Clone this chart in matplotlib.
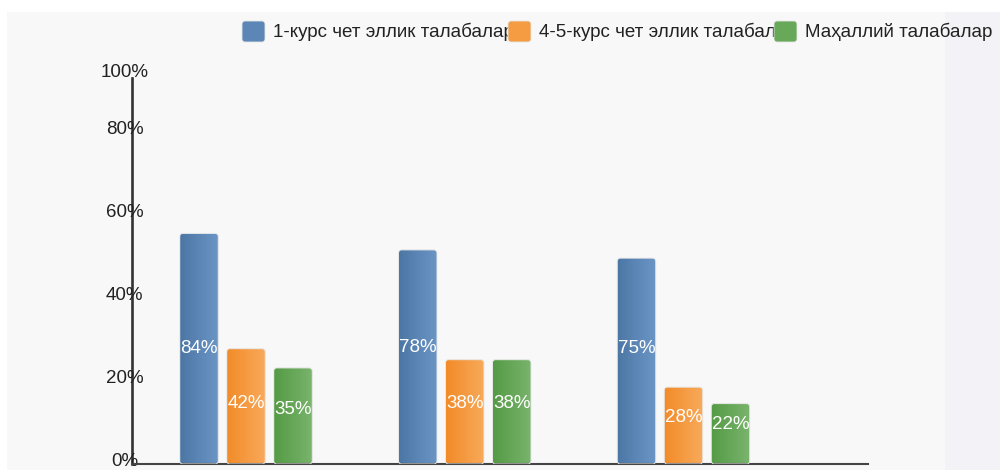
import numpy as np
import matplotlib
matplotlib.use('Agg')
import matplotlib.pyplot as plt
from matplotlib.patches import Rectangle, FancyBboxPatch
from matplotlib.colors import LinearSegmentedColormap
from matplotlib.transforms import offset_copy

plt.rcParams['font.family'] = ['Liberation Sans', 'DejaVu Sans']

#-------------------------------------------------------------------------------
#DATA

series = ['1-курс чет эллик талабалар',
          '4-5-курс чет эллик талабалар',
          'Маҳаллий талабалар']
first_year = [84, 78, 75]
senior = [42, 38, 28]
local = [35, 38, 22]
groups = ['', '', '']

tick_labels = ['0%', '20%', '40%', '60%', '80%', '100%']

#-------------------------------------------------------------------------------
#STYLE

# the source chart puts its tick labels at odd heights, keep them there
tick_pos = [1.5, 32, 62.2, 92.4, 122.6, 143.2]
axis_top = 140.6

# value labels in the source sit a little above the bar middle (px)
label_shift = [[0, 9, 13],
               [3, 8.5, 8],
               [6, 8.5, 9.7]]

grads = [('#4c77a5', '#6b95c5'),
         ('#f28b28', '#f8aa5c'),
         ('#559b45', '#79b46d')]

W, H = 1000, 470
px_x = 218.75  # px per category
px_y = 2.745   # px per value unit
fs = 13.5

#-------------------------------------------------------------------------------
#MAIN

fig = plt.figure(figsize=(W/100, H/100), dpi=100)
fig.patch.set_facecolor('white')
fig.add_artist(Rectangle((7/W, 0), (945-7)/W, (H-12)/H, transform=fig.transFigure,
                         facecolor='#f8f8f8', edgecolor='none', zorder=0))
fig.add_artist(Rectangle((945/W, 0), 55/W, (H-12)/H, transform=fig.transFigure,
                         facecolor='#f3f3f7', edgecolor='none', zorder=0))

ylim = (0, 145)
ax = fig.add_axes([132/W, 6/H, 736/W, ylim[1]*px_y/H])
ax.set_facecolor('none')

x = np.arange(len(groups))
off = 47/px_x
bw = 38.5/px_x
xlim = (-114/px_x, (868-246)/px_x)

vals = [first_year, senior, local]
for i, v in enumerate(vals):
    bars = ax.bar(x + (i-1)*off, v, bw, color='none', edgecolor='none')
    cmap = LinearSegmentedColormap.from_list('g%d' % i, grads[i])
    for j, b in enumerate(bars):
        x0, w, h = b.get_x(), b.get_width(), b.get_height()
        shape = FancyBboxPatch((x0, 0), w, h,
                               boxstyle='round,pad=0,rounding_size=%f' % (3/px_x),
                               mutation_aspect=px_x/px_y,
                               facecolor='none', edgecolor='#e8e8e8', lw=0.7, zorder=3)
        ax.add_patch(shape)
        im = ax.imshow(np.linspace(0, 1, 50).reshape(1, -1), cmap=cmap,
                       extent=[x0, x0 + w, 0, h], aspect='auto', zorder=2,
                       interpolation='bicubic')
        im.set_clip_path(shape)
        tr = offset_copy(ax.transData, fig=fig, y=label_shift[i][j], units='dots')
        ax.text(x0 + w/2, h/2, '%d%%' % v[j], transform=tr, ha='center',
                va='center', color='white', fontsize=fs, zorder=5)

ax.set_xlim(*xlim)
ax.set_ylim(*ylim)
ax.set_xticks(x, groups)
ax.set_yticks(tick_pos, tick_labels)
ax.tick_params(axis='both', length=0)
ax.tick_params(axis='y', pad=5.4, labelsize=fs, labelcolor='#222222')
for t in ax.get_yticklabels():
    t.set_horizontalalignment('center')

for s in ['top', 'right']:
    ax.spines[s].set_visible(False)
ax.spines['left'].set_bounds(0, axis_top)
ax.spines['left'].set_linewidth(1.9)
ax.spines['left'].set_color('#333333')
ax.spines['bottom'].set_linewidth(1.5)
ax.spines['bottom'].set_color('#444444')
ax.spines['left'].set_zorder(1)

# legend, laid out like the source (patches sit over the long labels)
for i, name in enumerate(series):
    lx = 242 + i*266
    fig.text((lx + 31)/W, 1 - 32/H, name, fontsize=fs, color='#222222',
             ha='left', va='center', zorder=1)
    cmap = LinearSegmentedColormap.from_list('l%d' % i, grads[i])
    fig.add_artist(FancyBboxPatch((lx/W, 1 - 42/H), 23/W, 21/H,
                                  boxstyle='round,pad=0,rounding_size=%f' % (3/W),
                                  mutation_aspect=W/H, transform=fig.transFigure,
                                  facecolor=cmap(0.5), edgecolor='#e6e6e6',
                                  lw=0.6, zorder=4))

fig.savefig('out.png', dpi=100)
